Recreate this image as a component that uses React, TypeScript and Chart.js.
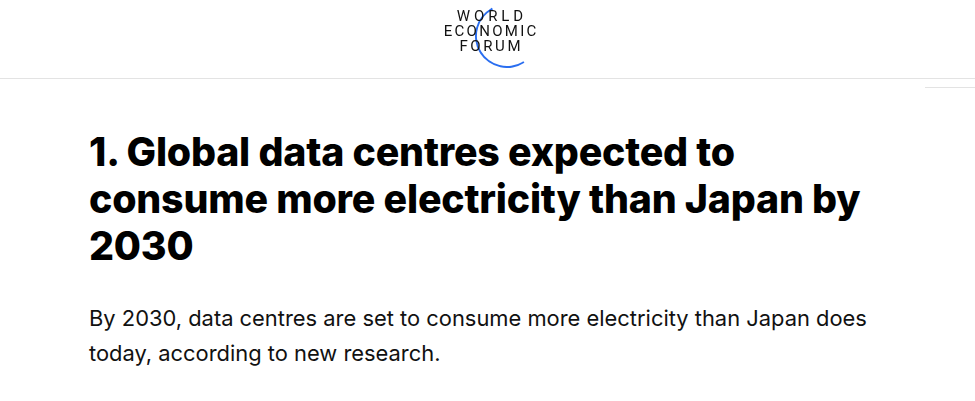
import React, { useEffect, useRef } from "react";
import { Chart, registerables } from "chart.js";

Chart.register(...registerables);

// Logo arc (degrees of the ring that are drawn vs. left blank)
const logoArcLabels = ["arc", "gap"];
const logoArcValues = [185, 175];
const logoArcColors = ["#2a6ef0", "rgba(0,0,0,0)"];
const logoArcRotation = 147;

const logoLines = ["WORLD", "ECONOMIC", "FORUM"];
const logoSpacing = [3.9, 2.3, 2.6];
const titleLines = [
  "1. Global data centres expected to",
  "consume more electricity than Japan by",
  "2030",
];
const bodyLines = [
  "By 2030, data centres are set to consume more electricity than Japan does",
  "today, according to new research.",
];

function LogoArc() {
  const ref = useRef<HTMLCanvasElement | null>(null);
  useEffect(() => {
    if (!ref.current) return;
    const chart = new Chart(ref.current, {
      type: "doughnut",
      data: {
        labels: logoArcLabels,
        datasets: [
          {
            data: logoArcValues,
            backgroundColor: logoArcColors,
            borderWidth: 0,
            hoverOffset: 0,
            offset: 0,
          },
        ],
      },
      options: {
        animation: false,
        responsive: false,
        rotation: logoArcRotation,
        cutout: "94%",
        layout: { padding: 0 },
        plugins: { legend: { display: false }, tooltip: { enabled: false } },
        events: [],
      },
    });
    return () => chart.destroy();
  }, []);
  return (
    <canvas
      ref={ref}
      width={64}
      height={64}
      style={{ position: "absolute", left: 475, top: 4, width: 64, height: 64 }}
    />
  );
}

export default function App() {
  return (
    <div
      style={{
        position: "fixed",
        left: 0,
        top: 0,
        width: 975,
        height: 401,
        background: "#fff",
        overflow: "hidden",
      }}
    >
      <LogoArc />
      <div
        style={{
          position: "absolute",
          left: 0,
          top: 9,
          width: 980,
          textAlign: "center",
          fontFamily: "Roboto, sans-serif",
          fontSize: 15,
          lineHeight: "15px",
          color: "#111",
        }}
      >
        {logoLines.map((l, i) => (
          <div
            key={l}
            style={{ letterSpacing: `${logoSpacing[i]}px`, paddingLeft: logoSpacing[i] }}
          >
            {l}
          </div>
        ))}
      </div>
      <div
        style={{
          position: "absolute",
          left: 0,
          top: 78,
          width: 975,
          height: 1,
          background: "#e3e3e3",
        }}
      />
      <div
        style={{
          position: "absolute",
          left: 925,
          top: 87,
          width: 50,
          height: 1,
          background: "#e3e3e3",
        }}
      />
      <div
        style={{
          position: "absolute",
          left: 89,
          top: 128,
          fontFamily: "Inter, sans-serif",
          fontWeight: 800,
          fontSize: 39.3,
          lineHeight: "47px",
          letterSpacing: "-0.2px",
          color: "#000",
          whiteSpace: "nowrap",
        }}
      >
        {titleLines.map((l) => (
          <div key={l}>{l}</div>
        ))}
      </div>
      <div
        style={{
          position: "absolute",
          left: 89,
          top: 301,
          fontFamily: "Inter, sans-serif",
          fontWeight: 400,
          fontSize: 21.9,
          lineHeight: "35px",
          color: "#111",
          whiteSpace: "nowrap",
        }}
      >
        {bodyLines.map((l) => (
          <div key={l}>{l}</div>
        ))}
      </div>
    </div>
  );
}
